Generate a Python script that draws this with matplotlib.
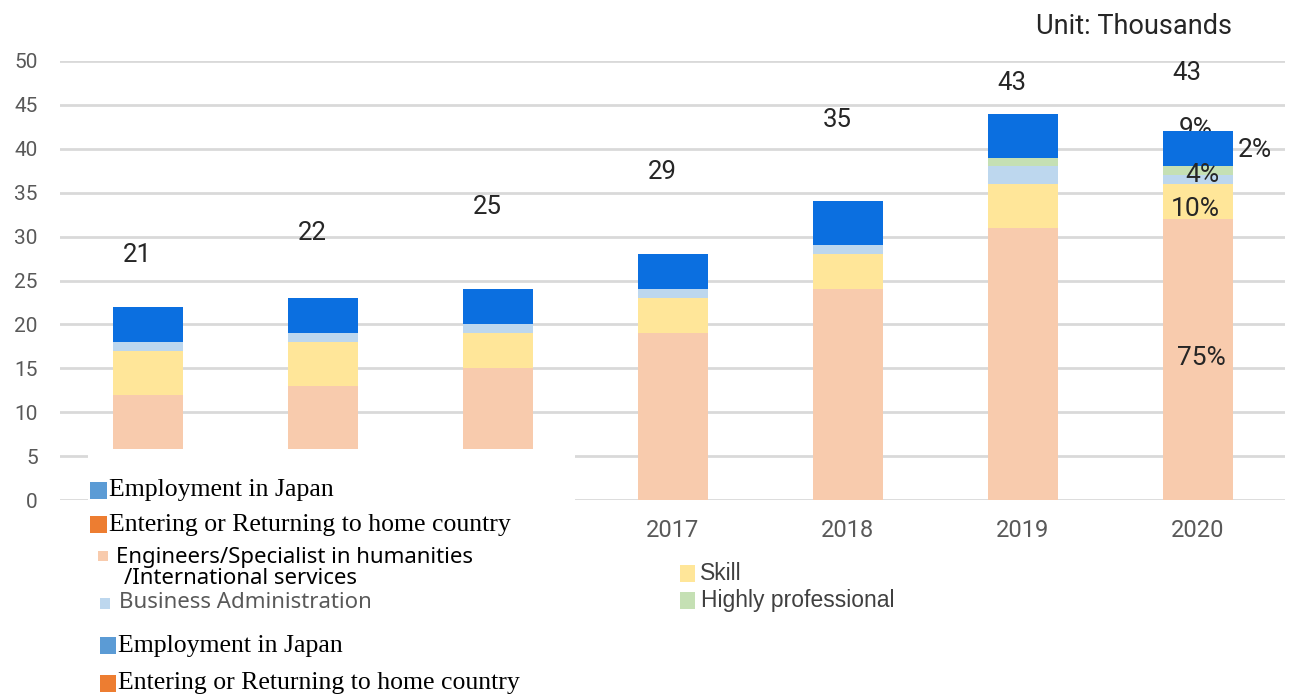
import matplotlib
matplotlib.use("Agg")
import matplotlib.pyplot as plt
from matplotlib.patches import Rectangle
import numpy as np

# ---- data (thousands) ----
years = ["2014", "2015", "2016", "2017", "2018", "2019", "2020"]
engineers = [12, 13, 15, 19, 24, 31, 32]
skill = [5, 5, 4, 4, 4, 5, 4]
business = [1, 1, 1, 1, 1, 2, 1]
highly_prof = [0, 0, 0, 0, 0, 1, 1]
employment = [4, 4, 4, 4, 5, 5, 4]
totals = [21, 22, 25, 29, 35, 43, 43]
total_label_y = [27.9, 30.4, 33.4, 37.4, 43.3, 47.5, 48.6]

share_labels = ["9%", "2%", "4%", "10%", "75%"]
share_pos = [(5.99, 42.3), (6.33, 39.9), (6.03, 37.0), (5.99, 33.1), (6.02, 16.2)]

yticks = [0, 5, 10, 15, 20, 25, 30, 35, 40, 45, 50]

C_ENG = "#F8CBAD"
C_SKILL = "#FFE699"
C_BUS = "#BDD7EE"
C_HIGH = "#C5E0B4"
C_EMP = "#0B6FE0"

NARROW = ["Roboto", "DejaVu Sans"]
SERIF = ["Liberation Serif", "DejaVu Serif"]
SANS = ["Noto Sans", "DejaVu Sans"]

W, H = 1290, 696
fig = plt.figure(figsize=(W / 100, H / 100), dpi=100)
fig.patch.set_facecolor("white")


def fx(px):
    return px / W


def fy(py):
    return 1 - py / H


ax = fig.add_axes([fx(60), fy(500), fx(1285) - fx(60), fy(61) - fy(500)])
x = np.arange(len(years))
bw = 0.4

bottom = np.zeros(len(years))
for vals, col in [(engineers, C_ENG), (skill, C_SKILL), (business, C_BUS),
                  (highly_prof, C_HIGH), (employment, C_EMP)]:
    v = np.array(vals, dtype=float)
    ax.bar(x, v, bw, bottom=bottom, color=col, zorder=3, linewidth=0)
    bottom += v

ax.set_xlim(-0.5, len(years) - 0.5)
ax.set_ylim(0, 50)
ax.set_yticks(yticks)
ax.set_xticks(x)
ax.set_xticklabels(years)
ax.tick_params(length=0, colors="#595959", pad=16)
ax.tick_params(axis="y", labelsize=15)
ax.tick_params(axis="x", labelsize=17, pad=14)
for lab in ax.get_xticklabels() + ax.get_yticklabels():
    lab.set_family(NARROW)
# the first three year labels sit under the legend panel
for lab in ax.get_xticklabels()[:3]:
    lab.set_visible(False)
ax.grid(axis="y", color="#D9D9D9", linewidth=2, zorder=0)
for s in ax.spines.values():
    s.set_visible(False)

for xi, t, ty in zip(x, totals, total_label_y):
    ax.text(xi - 0.06, ty, str(t), ha="center", va="center", fontsize=18.5,
            color="#262626", family=NARROW, zorder=4)

for lab, (px, py) in zip(share_labels, share_pos):
    ax.text(px, py, lab, ha="center", va="center", fontsize=19,
            color="#262626", family=NARROW, zorder=2 if lab == "9%" else 4)

fig.text(fx(1232), fy(27), "Unit: Thousands", ha="right", va="center",
         fontsize=19.5, color="#262626", family=NARROW)

# white panel holding the legend entries
fig.patches.append(Rectangle((fx(88), 0), fx(575) - fx(88), fy(449),
                             transform=fig.transFigure, facecolor="white",
                             edgecolor="none", zorder=5))


def swatch(x0, y0, x1, y1, color):
    fig.patches.append(Rectangle((fx(x0), fy(y1)), fx(x1) - fx(x0), fy(y0) - fy(y1),
                                 transform=fig.transFigure, facecolor=color,
                                 edgecolor="none", zorder=6))


def label(px, py, s, fam, size, color="black"):
    fig.text(fx(px), fy(py), s, ha="left", va="center", fontsize=size,
             color=color, family=fam, zorder=7)


swatch(90, 482, 107, 499, "#5B9BD5")
label(109, 490, "Employment in Japan", SERIF, 18.5)
swatch(90, 516, 107, 533, "#ED7D31")
label(109, 525, "Entering or Returning to home country", SERIF, 18.5)

swatch(98, 551, 108, 561, "#F8CBAD")
label(116, 557, "Engineers/Specialist in humanities", SANS, 16)
label(124, 579, "/International services", SANS, 16)
swatch(100, 598, 110, 610, C_BUS)
label(119, 603, "Business Administration", SANS, 16, "#595959")
# cut-off strip under the business label
fig.patches.append(Rectangle((fx(90), fy(628)), fx(400) - fx(90), fy(609) - fy(628),
                             transform=fig.transFigure, facecolor="white",
                             edgecolor="none", zorder=8))

swatch(100, 637, 116, 654, "#5B9BD5")
label(118, 646, "Employment in Japan", SERIF, 18.5)
swatch(100, 675, 116, 692, "#ED7D31")
label(118, 683, "Entering or Returning to home country", SERIF, 18.5)

swatch(680, 565, 695, 582, C_SKILL)
label(700, 573, "Skill", ["Liberation Sans", "DejaVu Sans"], 16.5, "#404040")
swatch(680, 592, 695, 609, C_HIGH)
label(701, 601, "Highly professional", ["Liberation Sans", "DejaVu Sans"], 16.5, "#404040")

fig.savefig("out.png", dpi=100, facecolor="white")
